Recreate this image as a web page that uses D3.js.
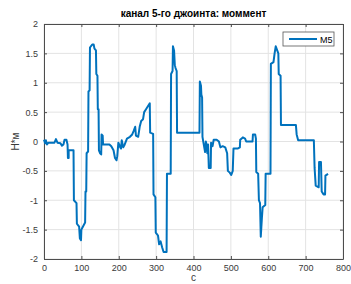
<!DOCTYPE html>
<html lang="ru">
<head>
<meta charset="UTF-8">
<title>канал 5-го джоинта: моммент</title>
<script src="https://d3js.org/d3.v7.min.js"></script>
<style>
  body { margin: 0; background: #fff; }
  svg { font-family: "Liberation Sans", Arial, sans-serif; }
  .grid line { stroke: #e3e3e3; stroke-width: 1; }
  .axis text { font-size: 9px; fill: #3a3a3a; }
  .axis path, .axis line { stroke: #4d4d4d; }
</style>
</head>
<body>
<div id="chart"></div>
<script>
// series M5: time (s) and moment (N*m) (steps -> repeated x)
const timeS = [0, 3, 5, 8, 12, 28, 32, 36, 44, 48, 52, 55, 60, 63, 64, 66, 66, 79, 80, 87, 88, 94, 96, 99, 100, 104, 110, 111, 113, 114, 118, 119, 122, 123, 129, 133, 135, 139, 140, 143, 144, 146, 147, 150, 153, 154, 157, 158, 175, 180, 186, 190, 194, 196, 199, 204, 206, 208, 212, 216, 222, 230, 236, 240, 244, 246, 252, 256, 260, 265, 268, 273, 278, 283, 284, 292, 293, 298, 299, 305, 308, 312, 316, 320, 328, 329, 339, 340, 344, 345, 348, 350, 352, 355, 356, 416, 417, 420, 421, 423, 424, 428, 431, 433, 435, 437, 439, 441, 446, 447, 451, 454, 462, 468, 472, 478, 485, 490, 492, 497, 501, 505, 507, 518, 524, 525, 532, 538, 541, 558, 559, 565, 567, 568, 573, 575, 578, 580, 583, 585, 592, 593, 606, 607, 614, 617, 620, 624, 627, 628, 633, 634, 674, 676, 680, 722, 724, 727, 735, 736, 741, 743, 748, 752, 753, 760];
const moment = [0.03, -0.03, 0.02, -0.05, -0.02, -0.02, 0.04, -0.02, -0.03, -0.07, -0.05, 0.03, 0.03, -0.05, -0.28, -0.28, -0.15, -0.15, -1.0, -1.05, -1.4, -1.45, -1.65, -1.68, -1.5, -1.45, -1.38, -0.85, -0.85, -0.2, -0.17, 0.85, 0.87, 1.6, 1.65, 1.65, 1.58, 1.55, 1.15, 1.12, 0.55, 0.55, -0.15, -0.2, -0.22, 0.12, 0.1, -0.05, -0.05, -0.08, -0.15, -0.28, -0.32, -0.25, -0.02, -0.1, -0.12, 0.02, -0.1, -0.05, 0.05, 0.08, 0.12, 0.18, 0.25, 0.1, 0.08, 0.25, 0.35, 0.38, 0.5, 0.55, 0.6, 0.65, 0.15, 0.13, -0.9, -0.95, -1.55, -1.6, -1.75, -1.7, -1.8, -1.88, -1.88, -0.55, -0.55, 1.15, 1.2, 1.62, 1.55, 1.3, 1.25, 1.2, 0.15, 0.15, 1.02, 0.95, 0.8, 0.75, 0.08, -0.07, -0.18, 0.0, -0.05, -0.2, -0.05, -0.45, -0.45, -0.02, -0.08, 0.03, 0.03, 0.0, -0.1, -0.08, -0.1, -0.2, -0.5, -0.53, -0.57, -0.5, -0.12, -0.12, -0.1, 0.03, 0.07, 0.05, 0.0, 0.0, 0.12, 0.12, 0.05, -0.52, -0.55, -1.0, -1.05, -1.62, -1.3, -1.12, -1.08, -0.55, -0.55, 1.32, 1.35, 1.5, 1.62, 1.55, 1.5, 1.15, 1.12, 0.28, 0.28, 0.12, 0.02, 0.02, -0.45, -0.75, -0.78, -0.35, -0.35, -0.85, -0.9, -0.9, -0.58, -0.55];

const xTicks = [0, 100, 200, 300, 400, 500, 600, 700, 800];
const yTicks = [-2, -1.5, -1, -0.5, 0, 0.5, 1, 1.5, 2];
const seriesName = "M5";

const W = 351, H = 284;
const margin = { top: 24, right: 8, bottom: 25, left: 44 };
const iw = W - margin.left - margin.right;
const ih = H - margin.top - margin.bottom;

const svg = d3.select("#chart").append("svg")
  .attr("width", W).attr("height", H);

const g = svg.append("g")
  .attr("transform", `translate(${margin.left},${margin.top})`);

const x = d3.scaleLinear().domain([0, 800]).range([0, iw]);
const y = d3.scaleLinear().domain([-2, 2]).range([ih, 0]);

// grid
g.append("g").attr("class", "grid")
  .selectAll("line").data(xTicks).join("line")
  .attr("x1", d => x(d)).attr("x2", d => x(d))
  .attr("y1", 0).attr("y2", ih);
g.append("g").attr("class", "grid")
  .selectAll("line").data(yTicks).join("line")
  .attr("x1", 0).attr("x2", iw)
  .attr("y1", d => y(d)).attr("y2", d => y(d));

// axes (ticks inward, matlab style)
const fmt = d => String(d);
g.append("g").attr("class", "axis")
  .attr("transform", `translate(0,${ih})`)
  .call(d3.axisBottom(x).tickValues(xTicks).tickFormat(fmt).tickSizeInner(-3).tickSizeOuter(0).tickPadding(6));
g.append("g").attr("class", "axis")
  .call(d3.axisLeft(y).tickValues(yTicks).tickFormat(fmt).tickSizeInner(-3).tickSizeOuter(0).tickPadding(6));
g.append("g").attr("class", "axis")
  .call(d3.axisTop(x).tickValues(xTicks).tickFormat("").tickSizeInner(-3).tickSizeOuter(0));
g.append("g").attr("class", "axis")
  .attr("transform", `translate(${iw},0)`)
  .call(d3.axisRight(y).tickValues(yTicks).tickFormat("").tickSizeInner(-3).tickSizeOuter(0));

// data line
const pts = timeS.map((t, i) => [t, moment[i]]);
g.append("path")
  .datum(pts)
  .attr("fill", "none")
  .attr("stroke", "#0072BD")
  .attr("stroke-width", 2)
  .attr("stroke-linejoin", "round")
  .attr("d", d3.line().x(d => x(d[0])).y(d => y(d[1])));

// title & labels
svg.append("text")
  .attr("x", margin.left + iw / 2).attr("y", 17)
  .attr("text-anchor", "middle")
  .style("font-size", "10px").style("font-weight", "bold").style("fill", "#000")
  .text("канал 5-го джоинта: моммент");

svg.append("text")
  .attr("x", margin.left + iw / 2).attr("y", 281)
  .attr("text-anchor", "middle")
  .style("font-size", "10px").style("fill", "#3a3a3a")
  .text("с");

svg.append("text")
  .attr("transform", `translate(19,${margin.top + ih / 2}) rotate(-90)`)
  .attr("text-anchor", "middle")
  .style("font-size", "10px").style("fill", "#3a3a3a")
  .text("Н*м");

// legend
const lg = svg.append("g").attr("transform", "translate(283,32)");
lg.append("rect")
  .attr("width", 51).attr("height", 14)
  .attr("fill", "#fff").attr("stroke", "#555").attr("stroke-width", 0.8);
lg.append("line")
  .attr("x1", 6).attr("x2", 34).attr("y1", 7).attr("y2", 7)
  .attr("stroke", "#0072BD").attr("stroke-width", 2);
lg.append("text")
  .attr("x", 37).attr("y", 10.5)
  .style("font-size", "9px").style("fill", "#000")
  .text(seriesName);
</script>
</body>
</html>
